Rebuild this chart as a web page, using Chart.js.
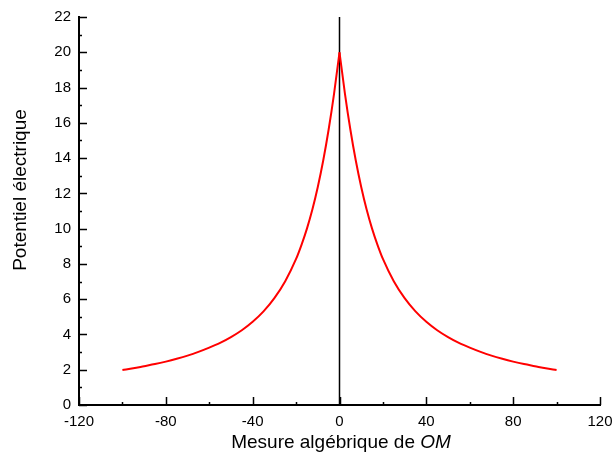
<!DOCTYPE html>
<html lang="fr">
<head>
    <meta charset="UTF-8">
    <title>Potentiel électrique</title>
    <script src="https://cdn.jsdelivr.net/npm/chart.js"></script>
    <style>
        body {
            margin: 0;
            background: #fff;
        }
        #wrap {
            width: 613px;
            height: 452px;
            position: relative;
        }
    </style>
</head>
<body>
    <div id="wrap">
        <canvas id="potChart"></canvas>
    </div>

    <script>
        // mesure algébrique de OM (abscisses)
        const omValues = [
            -100, -95, -90, -85, -80, -75, -70, -65, -60, -55, -50, -45, -40, -35, -30, -25, -20,
            -17.5, -15, -12.5, -10, -7.5, -5, -2.5, 0, 2.5, 5, 7.5, 10, 12.5, 15, 17.5,
            20, 25, 30, 35, 40, 45, 50, 55, 60, 65, 70, 75, 80, 85, 90, 95, 100
        ];
        // potentiel électrique
        const potentialValues = [
            1.98, 2.08, 2.20, 2.32, 2.46, 2.62, 2.80, 3.01, 3.25, 3.52, 3.85, 4.24, 4.72, 5.31, 6.06, 7.02, 8.28,
            9.08, 10.00, 11.08, 12.36, 13.86, 15.62, 17.66, 20.00, 17.66, 15.62, 13.86, 12.36, 11.08, 10.00, 9.08,
            8.28, 7.02, 6.06, 5.31, 4.72, 4.24, 3.85, 3.52, 3.25, 3.01, 2.80, 2.62, 2.46, 2.32, 2.20, 2.08, 1.98
        ];
        // axe vertical en O
        const axisLineX = [0, 0];
        const axisLineY = [0, 22];

        const xMin = -120, xMax = 120, xStep = 40, xMinorStep = 20;
        const yMin = 0, yMax = 22, yStep = 2, yMinorStep = 1;

        const fontFamily = '"Liberation Sans", Arial, Helvetica, sans-serif';

        const curvePoints = omValues.map((x, i) => ({ x: x, y: potentialValues[i] }));
        // deux branches séparées pour garder la pointe en O
        const leftBranch = curvePoints.filter(p => p.x <= 0);
        const rightBranch = curvePoints.filter(p => p.x >= 0);
        const axisPoints = axisLineX.map((x, i) => ({ x: x, y: axisLineY[i] }));

        // petites graduations tournées vers l'intérieur + titres des axes
        const decorPlugin = {
            id: 'decor',
            afterDraw(chart) {
                const c = chart.ctx;
                const xs = chart.scales.x;
                const ys = chart.scales.y;
                const area = chart.chartArea;
                c.save();
                c.strokeStyle = '#000';
                c.lineWidth = 1.5;
                c.beginPath();
                for (let v = xMin; v <= xMax; v += xMinorStep) {
                    const px = Math.round(xs.getPixelForValue(v)) + 0.5;
                    const len = (v % xStep === 0) ? 8 : 3;
                    c.moveTo(px, area.bottom);
                    c.lineTo(px, area.bottom - len);
                }
                for (let v = yMin; v <= yMax; v += yMinorStep) {
                    const py = Math.round(ys.getPixelForValue(v)) + 0.5;
                    const len = (v % yStep === 0) ? 8 : 3;
                    c.moveTo(area.left, py);
                    c.lineTo(area.left + len, py);
                }
                c.stroke();

                // titre axe Y
                c.fillStyle = '#000';
                c.font = '19px ' + fontFamily;
                c.textAlign = 'center';
                c.textBaseline = 'middle';
                c.translate(21, 190);
                c.rotate(-Math.PI / 2);
                c.fillText('Potentiel électrique', 0, 0);
                c.restore();

                // titre axe X avec OM en italique
                c.save();
                c.fillStyle = '#000';
                c.textBaseline = 'alphabetic';
                const part1 = 'Mesure algébrique de ';
                const part2 = 'OM';
                c.font = '19px ' + fontFamily;
                const w1 = c.measureText(part1).width;
                c.font = 'italic 19px ' + fontFamily;
                const w2 = c.measureText(part2).width;
                let startX = 341 - (w1 + w2) / 2;
                c.font = '19px ' + fontFamily;
                c.textAlign = 'left';
                c.fillText(part1, startX, 448);
                c.font = 'italic 19px ' + fontFamily;
                c.fillText(part2, startX + w1, 448);
                c.restore();
            }
        };

        const branchStyle = {
            borderColor: '#ff0000',
            borderWidth: 2,
            pointRadius: 0,
            cubicInterpolationMode: 'monotone',
            fill: false,
        };

        const ctx = document.getElementById('potChart').getContext('2d');
        const potChart = new Chart(ctx, {
            type: 'line',
            data: {
                datasets: [
                    Object.assign({ data: leftBranch }, branchStyle),
                    Object.assign({ data: rightBranch }, branchStyle),
                    {
                        data: axisPoints,
                        borderColor: '#000',
                        borderWidth: 1.5,
                        pointRadius: 0,
                        fill: false,
                    },
                ],
            },
            options: {
                responsive: true,
                maintainAspectRatio: false,
                animation: false,
                layout: {
                    padding: { top: 17, right: 13, left: 0, bottom: 0 },
                },
                plugins: {
                    legend: { display: false },
                    tooltip: { enabled: false },
                },
                scales: {
                    x: {
                        type: 'linear',
                        min: xMin,
                        max: xMax,
                        ticks: {
                            stepSize: xStep,
                            color: '#000',
                            padding: 8,
                            maxRotation: 0,
                            font: { family: fontFamily, size: 15 },
                        },
                        grid: { display: false, drawTicks: false },
                        border: { display: true, color: '#000', width: 2 },
                        afterFit(scale) {
                            scale.height = 47;
                            scale.paddingLeft = 0;
                            scale.paddingRight = 0;
                        },
                    },
                    y: {
                        min: yMin,
                        max: yMax,
                        ticks: {
                            stepSize: yStep,
                            color: '#000',
                            padding: 8,
                            font: { family: fontFamily, size: 15 },
                        },
                        grid: { display: false, drawTicks: false },
                        border: { display: true, color: '#000', width: 2 },
                        afterFit(scale) {
                            scale.width = 79;
                            scale.paddingTop = 0;
                            scale.paddingBottom = 0;
                        },
                    },
                },
            },
            plugins: [decorPlugin],
        });
    </script>
</body>
</html>
